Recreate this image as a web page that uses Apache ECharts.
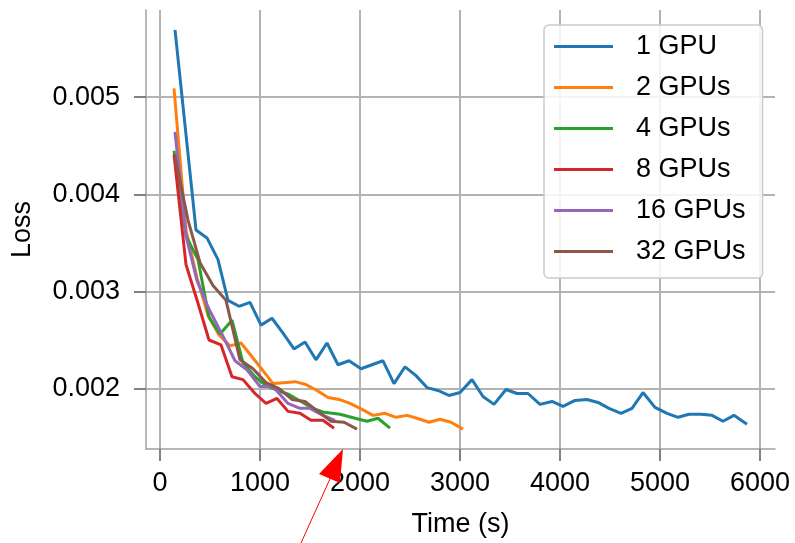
<!DOCTYPE html>
<html>
<head>
<meta charset="utf-8">
<script src="https://cdn.jsdelivr.net/npm/echarts@6/dist/echarts.min.js"></script>
<style>html,body{margin:0;padding:0;background:#fff;}#c{width:795px;height:543px;}</style>
</head>
<body>
<div id="c"></div>
<script>
var seriesNames = ['1 GPU', '2 GPUs', '4 GPUs', '8 GPUs', '16 GPUs', '32 GPUs'];
var seriesColors = ['#1f77b4', '#ff7f0e', '#2ca02c', '#d62728', '#9467bd', '#8c564b'];

var time1 = [150, 360, 470, 580, 680, 790, 900, 1010, 1120, 1230, 1340, 1450, 1560, 1670, 1780, 1890, 2010, 2120, 2230, 2340, 2450, 2560, 2670, 2780, 2890, 3000, 3120, 3230, 3340, 3460, 3570, 3680, 3800, 3920, 4030, 4150, 4270, 4380, 4490, 4610, 4720, 4830, 4950, 5070, 5180, 5290, 5410, 5520, 5630, 5740, 5870];
var loss1 = [0.005694, 0.003633, 0.003551, 0.003327, 0.002908, 0.002847, 0.002888, 0.002653, 0.002724, 0.002571, 0.002408, 0.002480, 0.002296, 0.002469, 0.002245, 0.002286, 0.002204, 0.002245, 0.002286, 0.002051, 0.002224, 0.002133, 0.002010, 0.001980, 0.001929, 0.001959, 0.002092, 0.001918, 0.001837, 0.001990, 0.001949, 0.001949, 0.001837, 0.001867, 0.001816, 0.001878, 0.001888, 0.001857, 0.001796, 0.001745, 0.001796, 0.001959, 0.001806, 0.001745, 0.001704, 0.001735, 0.001735, 0.001724, 0.001663, 0.001724, 0.001633];

var time2 = [140, 260, 370, 480, 590, 700, 810, 920, 1030, 1130, 1240, 1350, 1460, 1570, 1680, 1790, 1900, 2020, 2130, 2250, 2360, 2470, 2570, 2690, 2800, 2910, 3030];
var loss2 = [0.005092, 0.003633, 0.003143, 0.002755, 0.002551, 0.002439, 0.002469, 0.002327, 0.002184, 0.002051, 0.002061, 0.002071, 0.002041, 0.001980, 0.001908, 0.001888, 0.001847, 0.001786, 0.001724, 0.001745, 0.001704, 0.001724, 0.001694, 0.001653, 0.001684, 0.001653, 0.001582];

var time4 = [140, 260, 380, 490, 600, 720, 830, 950, 1060, 1180, 1290, 1410, 1530, 1640, 1800, 1950, 2070, 2180, 2300];
var loss4 = [0.004449, 0.003571, 0.003327, 0.002735, 0.002561, 0.002704, 0.002265, 0.002122, 0.002031, 0.001980, 0.001939, 0.001867, 0.001796, 0.001755, 0.001735, 0.001694, 0.001663, 0.001694, 0.001592];

var time8 = [140, 260, 380, 490, 610, 720, 830, 950, 1060, 1170, 1280, 1400, 1510, 1630, 1740];
var loss8 = [0.004408, 0.003276, 0.002878, 0.002500, 0.002449, 0.002122, 0.002092, 0.001949, 0.001847, 0.001898, 0.001765, 0.001745, 0.001673, 0.001673, 0.001592];

var time16 = [150, 260, 370, 490, 620, 750, 870, 1000, 1130, 1280, 1400, 1500, 1630, 1750];
var loss16 = [0.004643, 0.003571, 0.003112, 0.002816, 0.002561, 0.002286, 0.002194, 0.002020, 0.002020, 0.001847, 0.001796, 0.001796, 0.001724, 0.001673];

var time32 = [150, 280, 400, 530, 660, 800, 930, 1060, 1190, 1320, 1450, 1580, 1710, 1840, 1970];
var loss32 = [0.004388, 0.003735, 0.003296, 0.003061, 0.002908, 0.002296, 0.002204, 0.002061, 0.002000, 0.001888, 0.001867, 0.001765, 0.001663, 0.001653, 0.001582];

var xTicks = [0, 1000, 2000, 3000, 4000, 5000, 6000];
var yTicks = [0.002, 0.003, 0.004, 0.005];

var times = [time1, time2, time4, time8, time16, time32];
var losses = [loss1, loss2, loss4, loss8, loss16, loss32];

var FONT = '"Liberation Sans", Arial, Helvetica, sans-serif';

function pairs(t, l) { return t.map(function (v, i) { return [v, l[i]]; }); }

var series = seriesNames.map(function (n, i) {
  return {
    name: n, type: 'line', symbol: 'none', showSymbol: false,
    data: pairs(times[i], losses[i]),
    lineStyle: { color: seriesColors[i], width: 3 },
    itemStyle: { color: seriesColors[i] },
    emphasis: { disabled: true }
  };
});

var chart = echarts.init(document.getElementById('c'), null, { renderer: 'canvas' });
chart.setOption({
  animation: false,
  backgroundColor: '#ffffff',
  grid: { left: 146, top: 10, right: 20, bottom: 90, containLabel: false },
  xAxis: {
    type: 'value', min: -140, max: 6150,
    name: 'Time (s)', nameLocation: 'middle', nameGap: 62,
    nameTextStyle: { fontFamily: FONT, fontSize: 27, color: '#000' },
    axisLine: { show: true, onZero: false, lineStyle: { color: '#a0a0a0', width: 1.5 } },
    axisTick: { show: true, length: 12, customValues: xTicks, lineStyle: { color: '#808080', width: 2 } },
    axisLabel: { customValues: xTicks, margin: 21, fontFamily: FONT, fontSize: 27, color: '#000',
      formatter: function (v) { return String(Math.round(v)); } },
    splitLine: { show: true, lineStyle: { color: '#b3b3b3', width: 2 } }
  },
  yAxis: {
    type: 'value', min: 0.0013776, max: 0.005898,
    name: 'Loss', nameLocation: 'middle', nameGap: 110, nameRotate: 90,
    nameTextStyle: { fontFamily: FONT, fontSize: 27, color: '#000' },
    axisLine: { show: true, onZero: false, lineStyle: { color: '#a0a0a0', width: 1.5 } },
    axisTick: { show: true, length: 12, customValues: yTicks, lineStyle: { color: '#808080', width: 2 } },
    axisLabel: { customValues: yTicks, margin: 26, fontFamily: FONT, fontSize: 27, color: '#000',
      formatter: function (v) { return v.toFixed(3); } },
    splitLine: { show: true, lineStyle: { color: '#b3b3b3', width: 2 } }
  },
  legend: {
    orient: 'vertical', left: 544, top: 25,
    padding: [8, 17, 13, 10],
    itemWidth: 59, itemHeight: 14, itemGap: 14,
    icon: 'path://M0,0L60,0L60,3L0,3Z',
    backgroundColor: 'rgba(255,255,255,0.85)',
    borderColor: '#cccccc', borderWidth: 1.5, borderRadius: 5,
    textStyle: { fontFamily: FONT, fontSize: 27, color: '#000', lineHeight: 26, padding: [0, 0, 0, 18] },
    data: seriesNames
  },
  series: series,
  graphic: [
    { type: 'line', shape: { x1: 301, y1: 543, x2: 334, y2: 470 }, style: { stroke: '#ff0000', lineWidth: 1 }, z: 100 },
    { type: 'polygon', shape: { points: [[343, 449], [319, 474], [340, 483]] }, style: { fill: '#ff0000' }, z: 100 }
  ]
});
</script>
</body>
</html>
